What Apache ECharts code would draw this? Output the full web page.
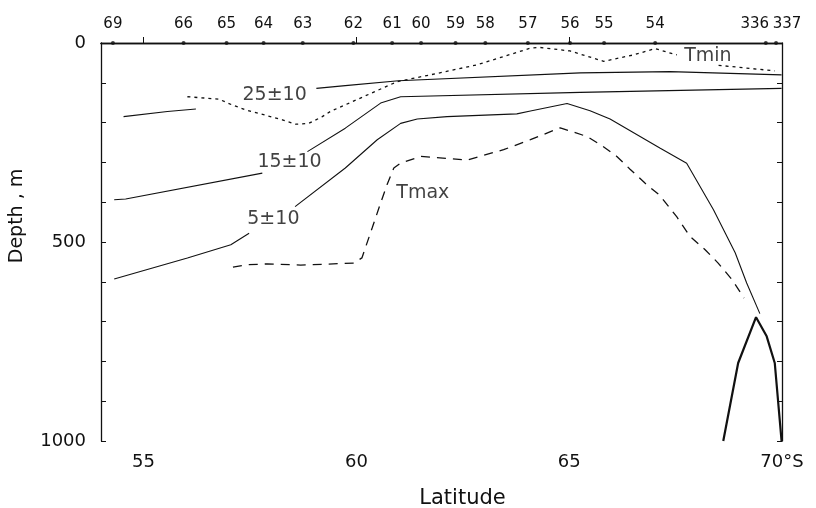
<!DOCTYPE html>
<html>
<head>
<meta charset="utf-8">
<script src="https://cdn.jsdelivr.net/npm/echarts@6/dist/echarts.min.js"></script>
<style>
  html, body { margin: 0; padding: 0; background: #fff; }
  #main { width: 816px; height: 508px; }
</style>
</head>
<body>
<div id="main"></div>
<script>
 // station positions (latitude) and numbers along the top axis
 var stationLat = [54.28, 55.94, 56.95, 57.82, 58.74, 59.93, 60.84, 61.52, 62.33, 63.03, 64.03, 65.02, 65.82, 67.02, 69.62, 69.86];
 var stationNum = ['69', '66', '65', '64', '63', '62', '61', '60', '59', '58', '57', '56', '55', '54', '336', '337'];

 var latTicks = [55, 60, 65];
 var latLabels = [55, 60, 65, 70];

 // contour lines [latitude, depth]
 var c25Left = [[54.53, 185], [55.56, 172], [56.23, 166]];
 var c25Right = [[59.06, 114], [59.74, 107], [60.99, 95], [65.26, 75], [67.37, 72], [69.99, 80]];
 var c15Left = [[54.31, 394], [54.58, 392], [57.79, 327]];
 var c15Right = [[58.85, 273], [59.74, 214], [60.57, 151], [61.04, 135], [65.26, 124], [69.99, 114]];
 var c5Left = [[54.31, 593], [56.03, 540], [57.05, 507], [57.48, 478]];
 var c5Right = [[58.56, 411], [59.74, 314], [60.49, 243], [61.04, 202], [61.43, 191], [62.13, 185], [63.77, 178],
   [64.09, 171], [64.95, 152], [65.49, 170], [65.96, 191], [67.13, 264], [67.76, 302], [68.39, 419], [68.9, 527],
   [69.17, 603], [69.48, 680]];
 var tmax = [[57.10, 563], [57.44, 557], [57.91, 555], [58.69, 558], [59.94, 553], [60.13, 540], [60.37, 465],
   [60.57, 402], [60.72, 356], [60.88, 314], [61.04, 302], [61.51, 285], [62.60, 294], [63.46, 268], [64.09, 243],
   [64.79, 213], [65.42, 235], [65.77, 258], [66.12, 285], [66.43, 317], [66.78, 352], [67.13, 383], [67.53, 437],
   [67.84, 486], [68.2, 520], [68.5, 553], [68.83, 595], [69.11, 641]];
 var tminLeft = [[56.03, 135], [56.77, 141], [57.09, 156], [57.40, 168], [58.26, 193], [58.57, 204], [58.88, 202],
   [59.20, 185], [59.39, 172], [60.96, 97], [61.74, 80], [62.83, 55], [63.46, 34], [64.09, 13], [64.3, 11],
   [65.02, 20], [65.81, 46], [66.51, 30], [67.02, 14], [67.53, 30]];
 var tminRight = [[68.51, 56], [69.83, 70]];
 var bottom = [[68.62, 1000], [68.97, 804], [69.39, 689], [69.64, 737], [69.83, 804], [69.99, 1000]];

 // in-plot labels [latitude, depth, text]
 var plotLabels = [[58.08, 130, '25±10'], [58.43, 300, '15±10'], [58.05, 442, '5±10'], [61.56, 377, 'Tmax'], [68.26, 34, 'Tmin']];

 var ink = '#111';
 var font = 'DejaVu Sans';

 function lineSeries(data, width, type) {
   return {
     type: 'line',
     data: data,
     showSymbol: false,
     symbol: 'none',
     silent: true,
     smooth: false,
     lineStyle: { color: ink, width: width, type: type || 'solid' }
   };
 }

 var myChart = echarts.init(document.getElementById('main'));
 var option = {
   backgroundColor: '#fff',
   animation: false,
   grid: { left: 101, right: 34, top: 43, bottom: 67, outerBoundsMode: 'none' },
   xAxis: [{
     type: 'value',
     min: 54,
     max: 70,
     position: 'bottom',
     name: 'Latitude',
     nameLocation: 'middle',
     nameGap: 47,
     nameTextStyle: { fontFamily: font, fontSize: 21, color: ink, padding: [0, 0, 0, 42] },
     axisLine: { lineStyle: { color: ink, width: 1.3 } },
     axisTick: { inside: true, length: 6, customValues: latTicks, lineStyle: { color: ink } },
     axisLabel: {
       customValues: latLabels,
       margin: 12,
       fontFamily: font,
       fontSize: 18,
       color: ink,
       formatter: function(v) {
         return v === 70 ? '70°S' : String(v);
       }
     },
     splitLine: { show: false }
   }, {
     type: 'value',
     min: 54,
     max: 70,
     position: 'top',
     axisLine: { lineStyle: { color: ink, width: 1.3 } },
     axisTick: { show: false },
     axisLabel: {
       customValues: stationLat,
       interval: 0,
       hideOverlap: false,
       margin: 11,
       fontFamily: font,
       fontSize: 15,
       color: ink,
       formatter: function(v) {
         for (var i = 0; i < stationLat.length; i++) {
           if (Math.abs(stationLat[i] - v) < 1e-6) {
             // the last two stations are crowded: push their numbers apart
             if (i === stationLat.length - 2) return '{l|' + stationNum[i] + '}';
             if (i === stationLat.length - 1) return '{r|' + stationNum[i] + '}';
             return stationNum[i];
           }
         }
         return '';
       },
       rich: {
         l: { fontFamily: font, fontSize: 15, color: ink, padding: [0, 22, 0, 0] },
         r: { fontFamily: font, fontSize: 15, color: ink, padding: [0, 0, 0, 22] }
       }
     },
     splitLine: { show: false }
   }],
   yAxis: [{
     type: 'value',
     min: 0,
     max: 1000,
     interval: 100,
     inverse: true,
     name: 'Depth , m',
     nameLocation: 'middle',
     nameRotate: 90,
     nameGap: 74,
     nameTextStyle: { fontFamily: font, fontSize: 19, color: ink, padding: [0, 0, 0, 52] },
     axisLine: { lineStyle: { color: ink, width: 1.3 } },
     axisTick: { inside: true, length: 5, lineStyle: { color: ink } },
     axisLabel: {
       margin: 15,
       fontFamily: font,
       fontSize: 18,
       color: ink,
       formatter: function(v) {
         return v % 500 === 0 ? String(v) : '';
       }
     },
     splitLine: { show: false }
   }, {
     type: 'value',
     min: 0,
     max: 1000,
     interval: 100,
     inverse: true,
     position: 'right',
     axisLine: { show: true, lineStyle: { color: ink, width: 1.3 } },
     axisTick: { inside: true, length: 5, lineStyle: { color: ink } },
     axisLabel: { show: false },
     splitLine: { show: false }
   }],
   series: [
     lineSeries(c25Left, 1.1),
     lineSeries(c25Right, 1.1),
     lineSeries(c15Left, 1.1),
     lineSeries(c15Right, 1.1),
     lineSeries(c5Left, 1.1),
     lineSeries(c5Right, 1.1),
     lineSeries(tmax, 1.3, [9, 7]),
     lineSeries(tminLeft, 1.3, [3, 4]),
     lineSeries(tminRight, 1.3, [3, 4]),
     lineSeries(bottom, 2.2),
     {
       type: 'scatter',
       silent: true,
       symbolSize: 1,
       itemStyle: { color: 'rgba(0,0,0,0)' },
       data: plotLabels.map(function(d) {
         return { value: [d[0], d[1]], name: d[2] };
       }),
       label: {
         show: true,
         position: 'inside',
         formatter: '{b}',
         fontFamily: font,
         fontSize: 19,
         color: ink
       }
     },
     {
       // station dots on the top axis
       type: 'scatter',
       silent: true,
       clip: false,
       symbolSize: 4,
       itemStyle: { color: ink },
       data: stationLat.map(function(v) {
         return [v, 0];
       })
     }
   ]
 };
 myChart.setOption(option);
</script>
</body>
</html>
